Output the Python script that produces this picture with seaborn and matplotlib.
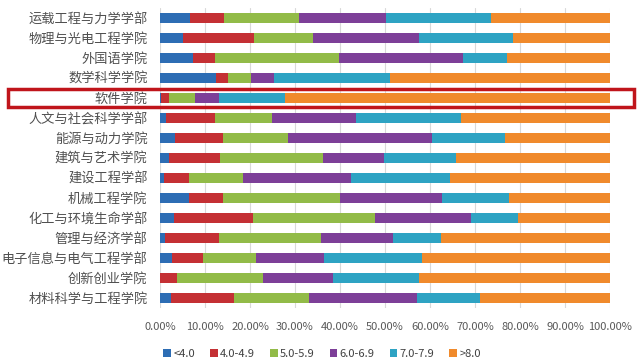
import matplotlib
matplotlib.use("Agg")
import matplotlib.pyplot as plt
import seaborn as sns
import numpy as np
from matplotlib.patches import Rectangle
from matplotlib.ticker import PercentFormatter

# 学院（自上而下）
colleges = ["运载工程与力学学部", "物理与光电工程学院", "外国语学院", "数学科学学院", "软件学院",
            "人文与社会科学学部", "能源与动力学院", "建筑与艺术学院", "建设工程学部", "机械工程学院",
            "化工与环境生命学部", "管理与经济学部", "电子信息与电气工程学部", "创新创业学院", "材料科学与工程学院"]

bands = ["<4.0", "4.0-4.9", "5.0-5.9", "6.0-6.9", "7.0-7.9", ">8.0"]
colors = ["#2d6db4", "#c43034", "#92bb48", "#7d3f98", "#2ea3c3", "#f08a2c"]

# 各分数段占比（%）
lt_40 = [6.6, 5.0, 7.3, 12.5, 0.3, 1.4, 3.3, 2.0, 0.9, 6.4, 3.2, 1.2, 2.7, 0.0, 2.4]
s_40_49 = [7.6, 15.8, 5.0, 2.6, 1.7, 10.9, 10.8, 11.4, 5.6, 7.7, 17.4, 12.0, 6.8, 3.7, 14.0]
s_50_59 = [16.7, 13.3, 27.5, 5.2, 5.8, 12.5, 14.3, 22.9, 11.9, 25.8, 27.1, 22.5, 11.9, 19.1, 16.8]
s_60_69 = [19.3, 23.4, 27.5, 5.1, 5.3, 18.7, 32.1, 13.5, 24.1, 22.7, 21.4, 16.1, 15.0, 15.6, 23.9]
s_70_79 = [23.3, 21.0, 9.9, 25.6, 14.7, 23.3, 16.1, 15.9, 21.9, 15.0, 10.4, 10.6, 21.8, 19.1, 14.1]
gt_80 = [26.5, 21.5, 22.8, 49.0, 72.2, 33.2, 23.4, 34.3, 35.6, 22.4, 20.5, 37.6, 41.8, 42.5, 28.8]

series = [lt_40, s_40_49, s_50_59, s_60_69, s_70_79, gt_80]

sns.set_theme(style="white")
plt.rcParams['font.family'] = ['Noto Sans CJK SC', 'DejaVu Sans']
plt.rcParams['axes.unicode_minus'] = False

fig = plt.figure(figsize=(6.44, 3.64), dpi=100)
ax = fig.add_axes([160 / 644, 1 - 308 / 364, 450 / 644, 300 / 364])

left = np.zeros(len(colleges))
for band, vals, c in zip(bands, series, colors):
    vals = np.array(vals) / 100.0
    sns.barplot(x=vals, y=colleges, left=left, color=c, width=0.5, orient="h",
                label=band, ax=ax, linewidth=0, saturation=1)
    left = left + vals

handles, labels = ax.get_legend_handles_labels()
if ax.get_legend() is not None:
    ax.get_legend().remove()

ax.set_xlim(0, 1.0)
ax.set_ylim(len(colleges) - 0.5, -0.5)
ax.set_xticks(np.arange(0, 1.01, 0.1))
ax.xaxis.set_major_formatter(PercentFormatter(1.0, decimals=2))
ax.set_xlabel("")
ax.set_ylabel("")
ax.grid(axis="x", color="#d9d9d9", linewidth=0.8)
ax.set_axisbelow(True)
for s in ax.spines.values():
    s.set_visible(False)
ax.tick_params(axis="x", length=0, pad=10, labelsize=8, labelcolor="#595959")
ax.tick_params(axis="y", length=0, pad=9, labelsize=9.5, labelcolor="#505050")

# 高亮软件学院
hl = Rectangle((8 / 644, 1 - 107 / 364), 626 / 644, 18 / 364, transform=fig.transFigure,
               fill=False, edgecolor="#c0151b", linewidth=2.5, zorder=10)
fig.patches.append(hl)

fig.legend(handles, labels, loc="center", bbox_to_anchor=(0.5, 1 - 354 / 364), ncol=6,
           frameon=False, fontsize=8, handlelength=0.7, handleheight=0.7,
           handletextpad=0.2, columnspacing=1.35, labelcolor="#404040")

fig.savefig("out.png", dpi=100)
